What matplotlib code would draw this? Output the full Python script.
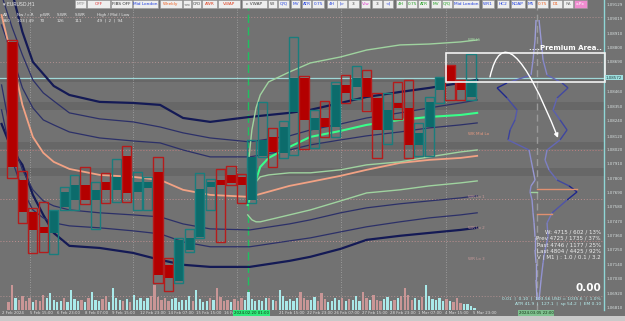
import matplotlib
matplotlib.use('Agg')
import matplotlib.pyplot as plt
from matplotlib.patches import Rectangle, FancyArrowPatch
from matplotlib.path import Path
from matplotlib.collections import LineCollection
from matplotlib.colors import to_rgb
import numpy as np

W, H = 625, 321
BG = '#727272'

# ---------------- data ----------------
opens  = [1.08846, 1.07790, 1.07545, 1.07430, 1.07384, 1.07583, 1.07637, 1.07751, 1.07637, 1.07774,
          1.07713, 1.07973, 1.07698, 1.07729, 1.07851, 1.07139, 1.07017, 1.07254, 1.07354, 1.07736,
          1.07790, 1.07828, 1.07813, 1.07637, 1.07973, 1.08119, 1.07996, 1.08310, 1.08570, 1.08172,
          1.08264, 1.08195, 1.08517, 1.08501, 1.08570, 1.08417, 1.08172, 1.08379, 1.08341, 1.08058,
          1.08195, 1.08479, 1.08662, 1.08540, 1.08425]
highs  = [1.08861, 1.07859, 1.07575, 1.07621, 1.07560, 1.07736, 1.07828, 1.07889, 1.07774, 1.07843,
          1.07950, 1.08050, 1.07851, 1.07813, 1.07966, 1.07193, 1.07346, 1.07415, 1.07843, 1.07797,
          1.07874, 1.07897, 1.07836, 1.08096, 1.08387, 1.08188, 1.08241, 1.08884, 1.08586, 1.08325,
          1.08394, 1.08540, 1.08593, 1.08662, 1.08632, 1.08456, 1.08456, 1.08540, 1.08555, 1.08226,
          1.08425, 1.08578, 1.08670, 1.08555, 1.08754]
lows   = [1.07805, 1.07461, 1.07231, 1.07239, 1.07223, 1.07560, 1.07560, 1.07606, 1.07415, 1.07614,
          1.07621, 1.07621, 1.07560, 1.07560, 1.07001, 1.06940, 1.07001, 1.07239, 1.07346, 1.07560,
          1.07315, 1.07751, 1.07614, 1.07614, 1.07966, 1.07889, 1.07958, 1.07981, 1.08027, 1.08035,
          1.08119, 1.08119, 1.08379, 1.08410, 1.08318, 1.07958, 1.08065, 1.08257, 1.07958, 1.07973,
          1.07973, 1.08379, 1.08402, 1.08402, 1.08402]
closes = [1.07889, 1.07545, 1.07407, 1.07384, 1.07560, 1.07698, 1.07751, 1.07637, 1.07713, 1.07713,
          1.07813, 1.07690, 1.07774, 1.07774, 1.07063, 1.07040, 1.07331, 1.07346, 1.07721, 1.07774,
          1.07751, 1.07767, 1.07751, 1.07966, 1.08096, 1.08004, 1.08195, 1.08570, 1.08249, 1.08264,
          1.08195, 1.08517, 1.08456, 1.08570, 1.08425, 1.08172, 1.08325, 1.08341, 1.08058, 1.08149,
          1.08387, 1.08570, 1.08540, 1.08479, 1.08555]

# tick volume, three sub-bars per candle
volume = [8, 25, 12, 10, 14, 9, 12, 8, 10, 9, 15, 12, 17, 10, 8, 9, 12, 8, 20, 11, 9, 10, 8, 12,
          18, 10, 9, 11, 14, 8, 22, 12, 10, 9, 11, 8, 15, 10, 12, 9, 12, 14, 25, 13, 10, 12, 9, 11,
          12, 8, 10, 10, 14, 9, 20, 11, 8, 9, 12, 10, 22, 13, 9, 10, 8, 11, 9, 12, 10, 18, 11, 9,
          10, 9, 12, 12, 10, 9, 20, 14, 9, 11, 9, 12, 18, 12, 10, 10, 13, 9, 17, 11, 8, 9, 12, 10,
          12, 9, 11, 10, 14, 9, 18, 12, 10, 15, 10, 9, 11, 13, 9, 10, 12, 14, 22, 15, 10, 12, 10, 13,
          25, 14, 11, 10, 12, 9, 11, 9, 8, 12, 7, 6, 6, 4, 2]
vol_dir = ("ddu" "ddd" "dud" "ddu" "uuu" "udu" "uuu" "dud" "uuu" "ddu" "uuu" "dud" "uuu" "uud" "ddd"
           "ddu" "uuu" "uud" "uuu" "udu" "ddd" "dud" "ddu" "uuu" "uuu" "dud" "uuu" "uuu" "ddd" "uud"
           "ddu" "uuu" "dud" "uuu" "ddu" "ddd" "uuu" "dud" "ddd" "uud" "uuu" "uuu" "dud" "ddu" "uuu")

# channel lines (price at candle positions)
band_x = [-1.0, 0.0, 1.0, 2.0, 3.0, 4.0, 5.5, 8.4, 11.6, 14.2, 16.4, 19.0, 22.8, 26.6, 28.6,
          31.5, 34.0, 37.2, 40.0, 43.0, 44.6]
upper_thick = [1.09473, 1.09228, 1.08922, 1.08693, 1.08601, 1.08509, 1.08440, 1.08387, 1.08379, 1.08364,
               1.08264, 1.08234, 1.08272, 1.08303, 1.08326, 1.08379, 1.08425, 1.08463, 1.08494, 1.08532, 1.08555]
upper_1 = [1.09205, 1.08960, 1.08746, 1.08555, 1.08456, 1.08394, 1.08303, 1.08257, 1.08234, 1.08195,
           1.08150, 1.08111, 1.08081, 1.08127, 1.08172, 1.08218, 1.08264, 1.08303, 1.08341, 1.08379, 1.08402]
upper_2 = [1.08976, 1.08746, 1.08494, 1.08341, 1.08249, 1.08211, 1.08157, 1.08111, 1.08088, 1.08073,
           1.08019, 1.07966, 1.07966, 1.08019, 1.08058, 1.08096, 1.08127, 1.08157, 1.08188, 1.08211, 1.08226]
mid_line = [1.09052, 1.08723, 1.08364, 1.08119, 1.07997, 1.07928, 1.07874, 1.07828, 1.07813, 1.07790,
            1.07714, 1.07675, 1.07660, 1.07744, 1.07775, 1.07821, 1.07867, 1.07920, 1.07943, 1.07958, 1.07974]
lower_1 = [1.08517, 1.08096, 1.07867, 1.07714, 1.07629, 1.07591, 1.07560, 1.07538, 1.07522, 1.07507,
           1.07453, 1.07415, 1.07407, 1.07453, 1.07484, 1.07538, 1.07576, 1.07607, 1.07629, 1.07652, 1.07668]
lower_2 = [1.08326, 1.07943, 1.07714, 1.07560, 1.07499, 1.07461, 1.07438, 1.07423, 1.07400, 1.07377,
           1.07316, 1.07278, 1.07278, 1.07323, 1.07346, 1.07392, 1.07431, 1.07469, 1.07499, 1.07522, 1.07538]
lower_thick = [1.08218, 1.08019, 1.07905, 1.07675, 1.07522, 1.07384, 1.07285, 1.07269, 1.07231, 1.07178,
               1.07140, 1.07124, 1.07124, 1.07170, 1.07201, 1.07262, 1.07331, 1.07362, 1.07384, 1.07407, 1.07423]

green_x = [22.6, 23.0, 23.4, 23.8, 24.6, 26.6, 28.6, 31.5, 34.0, 37.2, 40.0, 43.0, 44.6]
vwap_line = [1.07598, 1.07698, 1.07790, 1.07889, 1.07958, 1.08042, 1.08119, 1.08165, 1.08211, 1.08249,
             1.08272, 1.08287, 1.08303]
wr_hi = [1.07867, 1.08172, 1.08341, 1.08440, 1.08540, 1.08616, 1.08685, 1.08731, 1.08784, 1.08823,
         1.08830, 1.08846, 1.08861]
wr_lo_a = [1.07637, 1.07714, 1.07775, 1.07813, 1.07828, 1.07844, 1.07844, 1.07867, 1.07905, 1.07928,
           1.07966, 1.08004, 1.08019]
wr_lo_b = [1.07522, 1.07484, 1.07469, 1.07469, 1.07484, 1.07522, 1.07560, 1.07629, 1.07690, 1.07714,
           1.07744, 1.07767, 1.07782]

# volume profile (price level, right side size, left side size)
prof_price = [1.09014, 1.08861, 1.08708, 1.08593, 1.08532, 1.08494, 1.08417, 1.08325, 1.08249, 1.08172,
              1.08096, 1.08019, 1.07942, 1.07866, 1.07789, 1.07744, 1.07698, 1.07636, 1.07537, 1.07461,
              1.07354, 1.07253, 1.07154, 1.07024, 1.06871]
prof_right = [2, 4, 6, 10, 25, 31, 20, 16, 23, 30, 23, 10, 8, 12, 20, 32, 40, 30, 15, 10, 11, 8, 6, 4, 2]
prof_left  = [1, 2, 4, 6, 30, 40, 30, 20, 22, 27, 29, 8, 6, 4, 2, 6, 7, 5, 4, 3, 2, 2, 1, 1, 0]

price_ticks = [1.09129, 1.09019, 1.08910, 1.08800, 1.08690, 1.08460, 1.08350, 1.08240, 1.08120, 1.08020,
               1.07910, 1.07800, 1.07690, 1.07580, 1.07470, 1.07360, 1.07250, 1.07140, 1.07030, 1.06920, 1.06810]
last_price = 1.08572

date_labels = ["2 Feb 2024", "5 Feb 15:00", "6 Feb 23:00", "8 Feb 07:00", "9 Feb 15:00", "12 Feb 23:00",
               "14 Feb 07:00", "15 Feb 15:00", "16 Feb 23:00", "20 Feb 07:00", "21 Feb 15:00", "22 Feb 23:00",
               "26 Feb 07:00", "27 Feb 15:00", "28 Feb 23:00", "1 Mar 07:00", "4 Mar 15:00", "5 Mar 23:00"]
date_pos = [-1.0, 1.7, 4.3, 7.0, 9.6, 12.3, 15.0, 17.6, 20.3, 22.9, 25.6, 28.3, 30.9, 33.6, 36.2, 38.9, 41.5, 44.2]

buttons = ["MTF", "OFF", "FIBS OFF", "Mid London", "Weekly", "<<", "O/O", "AWR", "VWAP", "c VWAP", "WI",
           "Q/Q", "MV", "ATR", "0.75", "4H", "|>", "3", "V/w", "3", "<|", "4H", "0.75", "ATR", "MV", "Q/Q",
           "Mid London", "WR1", "HC2", "NOAP", "M5", "0.75", "D1", "RA", "x.Px"]
button_colors = ['#8a8a8a', '#e03030', '#303030', '#2040e0', '#f06020', '#404040', '#404040', '#e04020',
                 '#e04020', '#404040', '#404040', '#2040e0', '#2040e0', '#2040e0', '#2040e0', '#2040e0',
                 '#2040e0', '#404040', '#e040d0', '#404040', '#2040e0', '#20a020', '#20a020', '#20a020',
                 '#20a020', '#20a020', '#2040e0', '#2040e0', '#2040e0', '#2040e0', '#2040e0', '#f06020',
                 '#f06020', '#808080', '#ffffff']
button_px = [(75, 86), (87, 110), (111, 132), (133, 158), (160, 182), (183, 191), (192, 201), (202, 217),
             (218, 240), (242, 267), (268, 277), (278, 289), (291, 300), (302, 311), (312, 324), (327, 337),
             (337, 347), (348, 359), (361, 370), (372, 382), (383, 393), (396, 406), (407, 417), (418, 429),
             (431, 441), (442, 452), (453, 479), (482, 494), (497, 509), (511, 525), (527, 535), (537, 548),
             (550, 562), (563, 573), (574, 587)]

stats_lines = ["W: 4715 / 602 / 13%", "Prev 4725 / 1735 / 37%", "Past 4746 / 1177 / 25%",
               "Last 4804 / 4425 / 92%", "V ( M1 ) : 1.0 / 0.1 / 3.2"]

# ---------------- figure ----------------
fig = plt.figure(figsize=(W / 100, H / 100), dpi=100)
fig.patch.set_facecolor(BG)

def fx(px):
    return px / W

def fy(py):
    return 1 - py / H

ax = fig.add_axes([0, fy(310), fx(604), 310 / H])
ax.set_facecolor(BG)
y_top = 1.09167
y_bot = 1.06794
x_left = -1.15
x_right = (604 - 12) / 10.43
ax.set_xlim(x_left, x_right)
ax.set_ylim(y_bot, y_top)

# darker horizontal zones
for lo, hi in [(1.08540, 1.08570), (1.08325, 1.08387), (1.08030, 1.08080), (1.07820, 1.07880)]:
    ax.axhspan(lo, hi, color='#676767', zorder=0, lw=0)

# vertical separators
for xv in [1.7, 11.6, 21.6, 31.5, 41.6]:
    ax.axvline(xv, color='#a8a8a8', ls=(0, (1, 2)), lw=0.6, zorder=1)
ax.axvline(22.6, color='#1fc060', ls=(0, (6, 3)), lw=1.0, zorder=2)
ax.axvline(50.3, color='#9a9a9a', ls=(0, (5, 3)), lw=1.0, zorder=2)

# dotted levels
for lv, c in [(1.09038, '#b09090'), (1.08690, '#b09090'), (1.08020, '#c08080'),
              (1.07640, '#c09090'), (1.07320, '#c09090'), (1.06900, '#b09090')]:
    ax.axhline(lv, color=c, ls=(0, (1, 2)), lw=0.7, zorder=1)

# current price line
ax.axhline(last_price, color='#9fd8d8', lw=0.9, zorder=3)

# channel lines
ax.plot(band_x, upper_thick, color='#141a55', lw=1.6, zorder=3)
ax.plot(band_x, lower_thick, color='#141a55', lw=1.6, zorder=3)
for ln in [upper_1, upper_2, lower_1, lower_2]:
    ax.plot(band_x, ln, color='#2c3068', lw=0.9, zorder=3)
ax.plot(band_x, mid_line, color='#f2a284', lw=1.3, zorder=3)

ax.plot(green_x, wr_hi, color='#9fd39f', lw=1.0, zorder=3)
ax.plot(green_x, wr_lo_a, color='#9fd39f', lw=1.0, zorder=3)
ax.plot(green_x, wr_lo_b, color='#9fd39f', lw=1.0, zorder=3)
ax.plot(green_x, vwap_line, color='#39ff8a', lw=1.5, zorder=4)

# candles
wdt = 0.88
for i, (o, hgh, lw_, c) in enumerate(zip(opens, highs, lows, closes)):
    up = c >= o
    fc = '#0c6b6b' if up else '#b30000'
    ec = '#1a7d7d' if up else '#b51c1c'
    ax.add_patch(Rectangle((i - wdt / 2, min(o, c)), wdt, abs(c - o), facecolor=fc, edgecolor='none', zorder=5))
    ax.add_patch(Rectangle((i - wdt / 2, lw_), wdt, hgh - lw_, facecolor='none', edgecolor=ec, lw=1.0, zorder=6))

# volume profile
cx = 50.34
scale = 1 / 10.43
pp = np.array(prof_price)
c_thin = np.array(to_rgb('#a4a4dc'))
c_wide = np.array(to_rgb('#0c1680'))
for vals, sign in [(prof_right, 1), (prof_left, -1)]:
    w = np.array(vals, dtype=float)
    xs = cx + sign * w * scale
    pts = np.column_stack([xs, pp]).reshape(-1, 1, 2)
    segs = np.concatenate([pts[:-1], pts[1:]], axis=1)
    wseg = np.clip((w[:-1] + w[1:]) / 2 / 40, 0, 1)
    cols = [tuple(c_thin * (1 - t) + c_wide * t) for t in wseg]
    ax.add_collection(LineCollection(segs, colors=cols, lw=1.0, zorder=4))
ax.plot([cx, cx + 40 * scale], [1.07720, 1.07720], color='#e09070', lw=1.0, zorder=4)
ax.plot([cx, cx + 15 * scale], [1.07530, 1.07530], color='#e09070', lw=1.0, zorder=4)
ax.plot([cx - 6 * scale, cx], [1.07698, 1.07698], color='#9fd39f', lw=1.0, zorder=4)

# premium area
ax.add_patch(Rectangle((41.6, 1.08540), 56.85 - 41.6, 1.08761 - 1.08540, facecolor='none',
                       edgecolor='#f2f2f2', lw=1.2, zorder=7, clip_on=False))
arc = Path([(45.83, 1.08578), (47.36, 1.09117), (52.35, 1.08111)], [Path.MOVETO, Path.CURVE3, Path.CURVE3])
ax.add_patch(FancyArrowPatch(path=arc, arrowstyle='-|>', mutation_scale=6, color='white', lw=1.0, zorder=8))

ax.set_xticks([])
ax.set_yticks([])
for s in ['top', 'left', 'bottom']:
    ax.spines[s].set_visible(False)
ax.spines['right'].set_color('#8fd6d6')
ax.spines['right'].set_linewidth(1.0)

# price labels on the right
for v in price_ticks:
    ypix = (y_top - v) / (y_top - y_bot) * 310
    fig.text(fx(607), fy(ypix), f"{v:.5f}", fontsize=2.9, color='#d8e0e0', va='center', ha='left')
ypix = (y_top - last_price) / (y_top - y_bot) * 310
fig.text(fx(606), fy(ypix), f"{last_price:.5f}", fontsize=2.9, color='#204040', va='center', ha='left',
         bbox=dict(boxstyle='square,pad=0.15', fc='#9fe0e0', ec='none'))

# volume axes
vax = fig.add_axes([0, fy(310), fx(604), 60 / H])
vax.set_xlim(x_left, x_right)
vax.set_ylim(0, 60)
vax.patch.set_alpha(0)
vax.axis('off')
vx = np.repeat(np.arange(len(opens)), 3) + np.tile([-0.33, 0.0, 0.33], len(opens))
vcol = ['#a9eaea' if d == 'u' else '#c99696' for d in vol_dir]
vax.bar(vx, volume, width=0.22, color=vcol, zorder=2)

# bottom strip
fig.patches.append(Rectangle((0, 0), 1, fy(316), transform=fig.transFigure, fc='#c9c9c9', ec='none', zorder=0))
for lab, pos in zip(date_labels, date_pos):
    px = 12 + 10.43 * pos
    if 228 < px < 270:
        continue
    fig.text(fx(px), fy(313), lab, fontsize=2.8, color='#e0e0e0', va='center', ha='left', zorder=3)
fig.text(fx(234), fy(313), "2024.02.20 01:00", fontsize=2.8, color='#103010', va='center', ha='left',
         zorder=6, bbox=dict(boxstyle='square,pad=0.15', fc='#2ee87a', ec='none'))
fig.text(fx(519), fy(313), "2024.03.05 22:00", fontsize=2.8, color='#103010', va='center', ha='left',
         zorder=6, bbox=dict(boxstyle='square,pad=0.15', fc='#7fc08f', ec='none'))

# toolbar
for lab, col, (x0, x1) in zip(buttons, button_colors, button_px):
    fc = '#f08cd0' if lab == 'x.Px' else '#eeeeee'
    fig.patches.append(Rectangle((fx(x0), fy(7.5)), fx(x1 - x0), 7 / H, transform=fig.transFigure,
                                 fc=fc, ec='#9a9a9a', lw=0.4, zorder=5))
    fig.text(fx((x0 + x1) / 2), fy(3.8), lab, fontsize=3.1, color=col, ha='center', va='center', zorder=6)

# header
fig.text(fx(3), fy(4), "\u25be EURUSD,H1", fontsize=3.4, color='#e8e8e8', va='center')
hdr1 = [("All", 3), ("Nw / c.R", 17), ("p.WR", 40), ("S.WR", 57), ("S.WR", 75), ("High / Mid / Low", 97)]
hdr2 = [("360", 3), ("103 | 49", 17), ("70", 40), ("126", 57), ("111", 75), ("49  |  2  |  94", 97)]
for t, x in hdr1:
    fig.text(fx(x), fy(15), t, fontsize=3.0, color='#e8e8e8', va='center')
for t, x in hdr2:
    fig.text(fx(x), fy(20.5), t, fontsize=3.0, color='#e8e8e8', va='center')

# level labels
for t, y, c in [("WR Hi", 40, '#a8e0a8'), ("WK Mid Lo", 134, '#e89a80'), ("WR Lo 1", 197, '#c89a9a'),
                ("WR Lo 2", 228, '#c89a9a'), ("WR Lo 3", 259, '#c89a9a')]:
    fig.text(fx(468), fy(y), t, fontsize=3.0, color=c, va='center')

fig.text(fx(602), fy(48), "....Premium Area..", fontsize=5.0, color='white', fontweight='bold',
         va='center', ha='right')

for k, t in enumerate(stats_lines):
    fig.text(fx(601), fy(232 + 6.3 * k), t, fontsize=4.0, color='#eeeeee', ha='right', va='center')
fig.text(fx(601), fy(288), "0.00", fontsize=7.5, color='white', fontweight='bold', ha='right', va='center')
fig.text(fx(601), fy(298), "0.01  |  0.10  |  103.56 USD = 1035.6  |  1.0%", fontsize=3.2, color='#b8f0f0',
         ha='right', va='center')
fig.text(fx(601), fy(304), "ATR 41.9  |  127.1  |  sp 54.2  |  EM 0.10", fontsize=3.2, color='#b8f0f0',
         ha='right', va='center')

fig.savefig('out.png', dpi=100, facecolor=fig.get_facecolor())
